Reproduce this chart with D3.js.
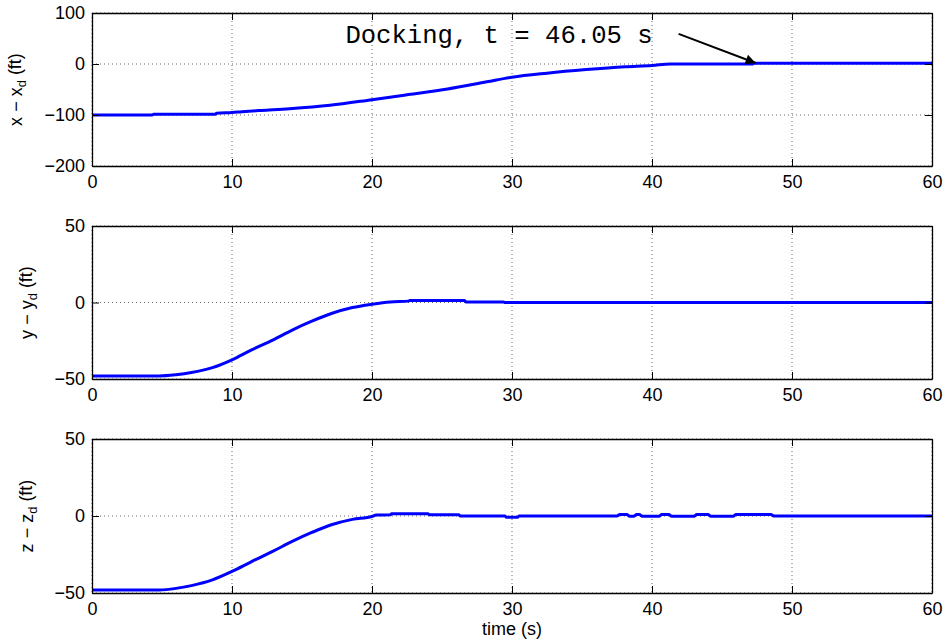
<!DOCTYPE html>
<html>
<head>
<meta charset="utf-8">
<script src="https://cdn.jsdelivr.net/npm/d3@7"></script>
<style>
  body { margin: 0; background: #fff; }
  svg { display: block; font-family: "Liberation Sans", Arial, Helvetica, sans-serif; }
  .tick text { font-size: 18px; fill: #000; }
  .domain, .tick line { stroke: #000; }
  .grid line { stroke: #666; stroke-dasharray: 1,3; }
</style>
</head>
<body>
<div id="chart-area"></div>
<script>
// time axis
var timeTicks = [0, 10, 20, 30, 40, 50, 60];

// x - xd (ft)
var xTime = [0, 4.3, 4.4, 8.8, 8.9, 10, 10.7, 12.1, 14.1, 17, 20, 22.6, 25.4, 28.2, 30, 32.5, 35.3, 38.1, 40, 41.3, 47.2, 47.3, 60];
var xErr  = [-100, -100, -98.5, -98.5, -96.5, -95, -93.5, -91, -87.7, -81, -70, -60, -49, -35, -26, -18, -11, -5.5, -3, 0, 0, 1.5, 1.5];
var xTicks = [-200, -100, 0, 100];

// y - yd (ft)
var yTime = [0, 4.8, 6, 7.1, 8.6, 10, 11.4, 12.9, 14.3, 15.7, 17.1, 18.6, 20, 21.3, 22.6, 22.7, 26.6, 26.7, 29.4, 29.5, 60];
var yErr  = [-48, -48, -47.2, -45.8, -42.6, -37.5, -31, -24.6, -18, -12.2, -7.2, -3.3, -1.1, 0.4, 0.9, 1.3, 1.3, 0.4, 0.4, 0, 0];
var yTicks = [-50, 0, 50];

// z - zd (ft)
var zTime = [0, 4.8, 6, 7.1, 8.6, 10, 11.4, 12.9, 14.3, 15.7, 17.1, 18.6, 20, 20.3, 21.3, 21.4, 24, 24.1, 26.2, 26.3, 29.5, 29.6, 30.4, 30.5,
             37.5, 37.7, 38.2, 38.4, 38.7, 38.9, 39.1, 39.3, 40.5, 40.7, 41.2, 41.4, 43, 43.2, 44, 44.2, 45.8, 46, 48.5, 48.7, 60];
var zErr  = [-48, -48, -47, -45.2, -41.5, -36, -29.6, -23, -16.5, -10.7, -5.7, -2.2, -0.3, 0.6, 0.8, 1.4, 1.4, 0.8, 0.8, 0, 0, -0.8, -0.8, 0,
             0, 0.9, 0.9, -0.2, -0.2, 0.9, 0.9, -0.2, -0.2, 0.9, 0.9, -0.2, -0.2, 0.9, 0.9, -0.2, -0.2, 0.9, 0.9, 0, 0];

// docking annotation
var dockLabel = "Docking, t = 46.05 s";
var dockText = { t: 18.1, v: 41 };
var dockTail = { t: 41.9, v: 59 };
var dockTip  = { t: 47.4, v: 2 };

var width = 946, height = 642;
var left = 92, right = 932;

var panels = [
  { time: xTime, vals: xErr, domain: [-200, 100], ticks: xTicks, top: 13,  bottom: 166, sym: "x", labelX: -70, showTime: false },
  { time: yTime, vals: yErr, domain: [-50, 50],   ticks: yTicks, top: 226, bottom: 379, sym: "y", labelX: -59, showTime: false },
  { time: zTime, vals: zErr, domain: [-50, 50],   ticks: yTicks, top: 439, bottom: 593, sym: "z", labelX: -59, showTime: true }
];

var svg = d3.select("#chart-area")
        .append("svg")
                .attr("width", width)
                .attr("height", height);

svg.append("defs").append("marker")
        .attr("id", "head")
        .attr("viewBox", "0 0 10 10")
        .attr("refX", 10)
        .attr("refY", 5)
        .attr("markerWidth", 6)
        .attr("markerHeight", 5)
        .attr("markerUnits", "strokeWidth")
        .attr("orient", "auto")
        .append("path")
                .attr("d", "M0,0 L10,5 L0,10 Z")
                .attr("fill", "#000");

var x = d3.scaleLinear()
        .domain([0, 60])
        .range([0, right - left]);

panels.forEach(function(p, i) {
        var h = p.bottom - p.top;
        var y = d3.scaleLinear()
                .domain(p.domain)
                .range([h, 0]);

        var g = svg.append("g")
                .attr("transform", "translate(" + left + "," + p.top + ")");

        // dotted grid
        var grid = g.append("g").attr("class", "grid");
        grid.selectAll(".gx")
                .data(timeTicks)
                .enter()
                .append("line")
                        .attr("x1", d => x(d)).attr("x2", d => x(d))
                        .attr("y1", 0).attr("y2", h);
        grid.selectAll(".gy")
                .data(p.ticks)
                .enter()
                .append("line")
                        .attr("x1", 0).attr("x2", x(60))
                        .attr("y1", d => y(d)).attr("y2", d => y(d));

        // series
        var pts = p.time.map((t, k) => [t, p.vals[k]]);
        var line = d3.line()
                .curve(d3.curveMonotoneX)
                .x(d => x(d[0]))
                .y(d => y(d[1]));
        g.append("path")
                .datum(pts)
                .attr("d", line)
                .attr("fill", "none")
                .attr("stroke", "#0000ff")
                .attr("stroke-width", 3)
                .attr("stroke-linejoin", "round");

        // axes, ticks pointing inward on all sides
        g.append("g")
                .attr("transform", "translate(0," + h + ")")
                .call(d3.axisBottom(x).tickValues(timeTicks).tickSizeInner(-7).tickSizeOuter(0).tickPadding(9));
        g.append("g")
                .call(d3.axisTop(x).tickValues(timeTicks).tickSizeInner(-7).tickSizeOuter(0).tickFormat(""));
        g.append("g")
                .call(d3.axisLeft(y).tickValues(p.ticks).tickSizeInner(-7).tickSizeOuter(0).tickPadding(7));
        g.append("g")
                .attr("transform", "translate(" + x(60) + ",0)")
                .call(d3.axisRight(y).tickValues(p.ticks).tickSizeInner(-7).tickSizeOuter(0).tickFormat(""));
        g.selectAll(".domain").attr("stroke-width", 1.3);

        // y label with subscript
        var lab = g.append("text")
                .attr("transform", "translate(" + p.labelX + "," + (h / 2) + ") rotate(-90)")
                .attr("text-anchor", "middle")
                .attr("font-size", "18px");
        lab.append("tspan").text(p.sym + " \u2212 " + p.sym);
        lab.append("tspan").attr("dy", "0.3em").attr("font-size", "13px").text("d");
        lab.append("tspan").attr("dy", "-0.3em").text(" (ft)");

        if (p.showTime) {
                g.append("text")
                        .attr("x", x(30))
                        .attr("y", h + 42)
                        .attr("text-anchor", "middle")
                        .attr("font-size", "18px")
                        .text("time (s)");
        }

        if (i === 0) {
                g.append("text")
                        .attr("x", x(dockText.t))
                        .attr("y", y(dockText.v))
                        .attr("font-family", "'Liberation Mono', 'Courier New', monospace")
                        .attr("font-size", "25.6px")
                        .text(dockLabel);
                g.append("line")
                        .attr("x1", x(dockTail.t)).attr("y1", y(dockTail.v))
                        .attr("x2", x(dockTip.t)).attr("y2", y(dockTip.v))
                        .attr("stroke", "#000")
                        .attr("stroke-width", 2)
                        .attr("marker-end", "url(#head)");
        }
});
</script>
</body>
</html>
